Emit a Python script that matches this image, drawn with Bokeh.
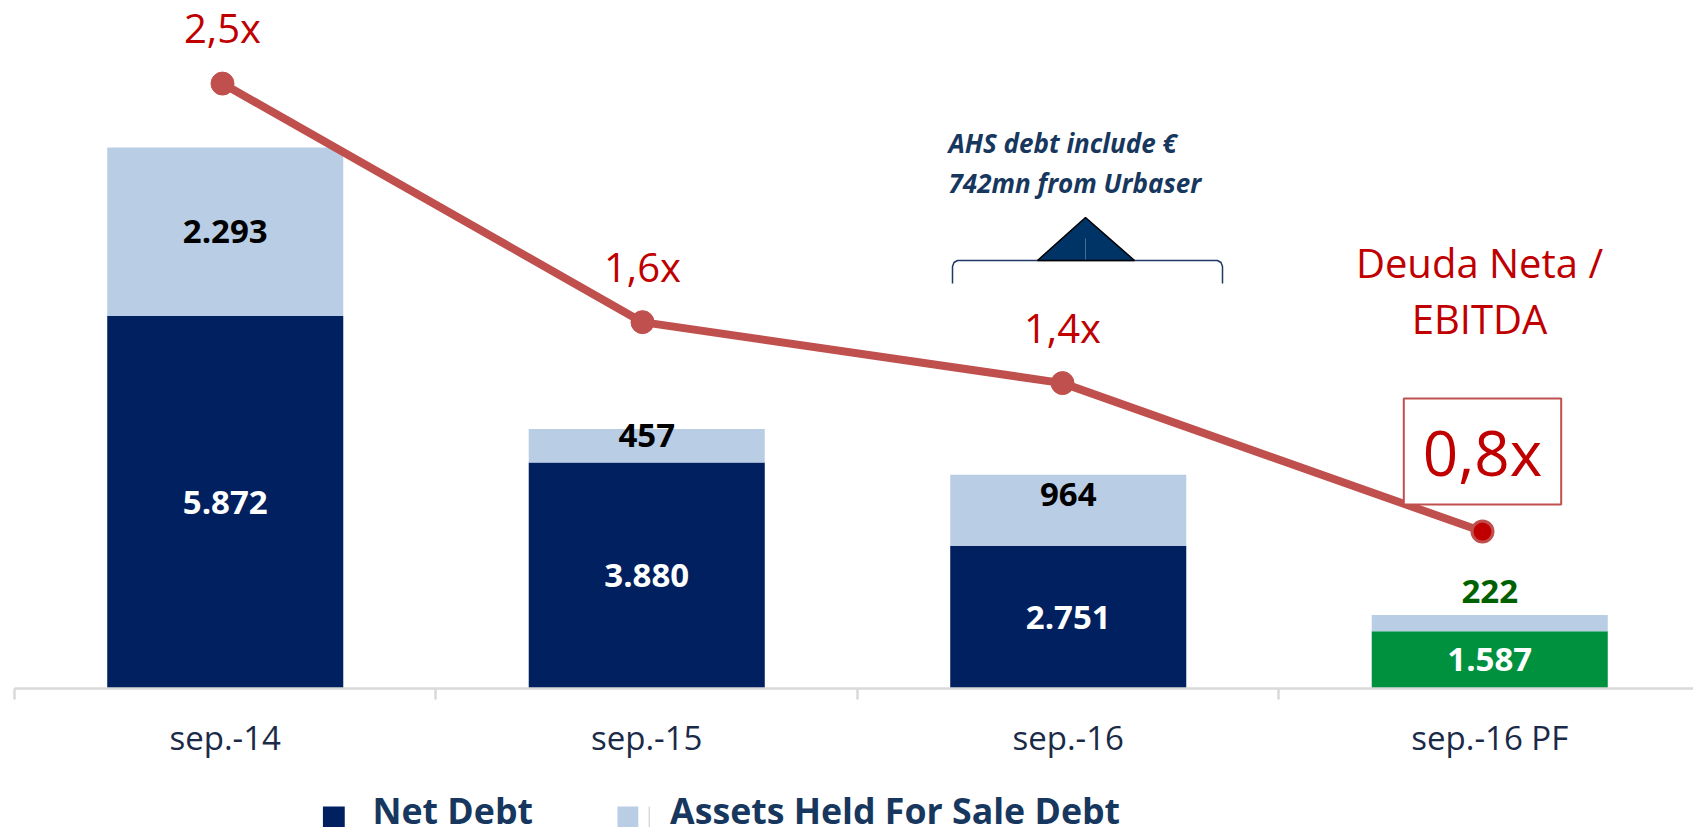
from bokeh.plotting import figure
from bokeh.layouts import column
from bokeh.models import Range1d, LinearAxis, FixedTicker, Label, ColumnDataSource
from bokeh.core.properties import value
from bokeh.embed import file_html
from bokeh.resources import INLINE

# ---------------- data ----------------
categories = ["sep.-14", "sep.-15", "sep.-16", "sep.-16 PF"]
net_debt = [5872, 3880, 2751, 1587]
ahs_debt = [2293, 457, 964, 222]
ratio = [2.5, 1.6, 1.37, 0.81]
ratio_labels = ["2,5x", "1,6x", "1,4x", "0,8x"]
net_labels = ["5.872", "3.880", "2.751", "1.587"]
ahs_labels = ["2.293", "457", "964", "222"]
series_names = ["Net Debt", "Assets Held For Sale Debt"]

# ---------------- styling ----------------
NAVY = "#002060"
LIGHT = "#B9CDE5"
GREEN = "#00913F"
LINE_RED = "#C0504D"
TEXT_RED = "#C00000"
DARK_TXT = "#17375E"
FONT = "Open Sans"

W = 1693
H1, H2 = 780, 47
Y0, Y1 = 809, 10162          # primary axis (debt) visible range
R0, R1 = 0.218, 2.8134       # secondary axis (ratio) visible range

p = figure(width=W, height=H1, output_backend="svg", toolbar_location=None, title=None,
           x_range=Range1d(0, 3.9834), y_range=Range1d(Y0, Y1),
           x_axis_location=None, y_axis_location=None,
           min_border_left=14, min_border_right=0, min_border_top=0, min_border_bottom=H1 - 688)
p.outline_line_color = None
p.grid.grid_line_color = None
p.background_fill_color = "white"
p.border_fill_color = "white"

# "ratio"/"line" = secondary axes of the line series; "px"/"pxy" = picture pixels for decorations
p.extra_y_ranges = {"ratio": Range1d(R0, R1), "pxy": Range1d(688, 0)}
p.extra_x_ranges = {"px": Range1d(14, W), "line": Range1d(0.00476, 4.0024)}

xpos = [i + 0.5 for i in range(len(categories))]
bar_colors = [NAVY, NAVY, NAVY, GREEN]
src = ColumnDataSource(dict(
    x=xpos, net=net_debt, ahs=ahs_debt,
    total=[n + a for n, a in zip(net_debt, ahs_debt)],
    color=bar_colors))

BW = 0.56
net_r = p.vbar(x="x", bottom=0, top="net", width=BW, fill_color="color",
               line_color=None, source=src)
ahs_r = p.vbar(x="x", bottom="net", top="total", width=BW, fill_color=LIGHT,
               line_color=None, source=src)

# bar labels
net_mid = [(Y0 + n) / 2 for n in net_debt]
p.text(x=xpos, y=net_mid, text=net_labels, text_align="center", text_baseline="middle",
       text_font=value(FONT), text_font_style="bold", text_font_size="33px", text_color="white")

ahs_offsets = [0, -10, -16]
for i in range(3):
    p.text(x=[xpos[i]], y=[net_debt[i] + ahs_debt[i] / 2], text=[ahs_labels[i]],
           y_offset=ahs_offsets[i], text_align="center", text_baseline="middle",
           text_font=value(FONT), text_font_style="bold", text_font_size="33px",
           text_color="black")
p.text(x=[xpos[3]], y=[net_debt[3] + ahs_debt[3]], text=[ahs_labels[3]],
       y_offset=-23, text_align="center", text_baseline="middle",
       text_font=value(FONT), text_font_style="bold", text_font_size="33px",
       text_color="#006100")

# ratio line
LR = dict(x_range_name="line", y_range_name="ratio")
p.line(x=xpos, y=ratio, line_color=LINE_RED, line_width=8, **LR)
p.scatter(x=xpos[:3], y=ratio[:3], size=23, fill_color=LINE_RED, line_color=LINE_RED, **LR)
p.scatter(x=xpos[3:], y=ratio[3:], size=21, fill_color=TEXT_RED, line_color=LINE_RED,
          line_width=3, **LR)
p.text(x=xpos[:3], y=ratio[:3], text=ratio_labels[:3],
       y_offset=-56, text_align="center", text_baseline="middle",
       text_font=value(FONT), text_font_size="40px", text_color=TEXT_RED, **LR)
p.add_layout(Label(x=xpos[3], y=ratio[3], text=ratio_labels[3],
                   y_offset=80, text_align="center", text_baseline="middle",
                   text_font=FONT, text_font_size="62px", text_color=TEXT_RED,
                   border_line_color=LINE_RED, border_line_width=2,
                   background_fill_color="white",
                   padding=dict(left=19, right=19, top=11, bottom=11), **LR))

# series title for the line
for txt, yy in [("Deuda Neta /", 262), ("EBITDA", 318)]:
    p.add_layout(Label(x=1479, y=yy, x_range_name="px", y_range_name="pxy", text=txt,
                       text_align="center", text_baseline="middle", text_font=FONT,
                       text_font_size="40px", text_color=TEXT_RED))

# AHS annotation
for txt, yy in [("AHS debt include \u20ac", 142), ("742mn from Urbaser", 182)]:
    p.add_layout(Label(x=948, y=yy, x_range_name="px", y_range_name="pxy", text=txt,
                       text_align="left", text_baseline="middle", text_font=FONT,
                       text_font_style="bold italic", text_font_size="26px",
                       text_color=DARK_TXT))
p.line(x=[952, 952, 953.5, 957, 1217, 1220.5, 1222, 1222],
       y=[283, 266, 262, 260, 260, 262, 266, 283],
       x_range_name="px", y_range_name="pxy", line_color="#1F3864", line_width=1.5)
p.patch(x=[1037, 1085, 1134], y=[260, 217, 260], x_range_name="px", y_range_name="pxy",
        fill_color="#003366", line_color="black", line_width=1.5)
p.line(x=[1085, 1085], y=[259, 238], x_range_name="px", y_range_name="pxy",
       line_color="#4A6A9A", line_width=1)

# x axis: labels at category centers, tick marks at category boundaries
xaxis = LinearAxis(ticker=FixedTicker(ticks=xpos, minor_ticks=[0, 1, 2, 3, 4]),
                   major_label_overrides={x: c for x, c in zip(xpos, categories)})
xaxis.axis_line_color = "#D9D9D9"
xaxis.axis_line_width = 2.5
xaxis.major_tick_line_color = None
xaxis.major_tick_out = 0
xaxis.major_tick_in = 0
xaxis.minor_tick_line_color = "#D9D9D9"
xaxis.minor_tick_line_width = 2.5
xaxis.minor_tick_out = 11
xaxis.minor_tick_in = 0
xaxis.major_label_text_font = FONT
xaxis.major_label_text_font_size = "33px"
xaxis.major_label_text_color = "#1B2A47"
xaxis.major_label_standoff = 15
p.add_layout(xaxis, "below")

# ---------------- legend strip (picture pixel coordinates) ----------------
lg = figure(width=W, height=H2, output_backend="svg", toolbar_location=None, title=None,
            x_range=Range1d(0, W), y_range=Range1d(H1 + H2, H1),
            x_axis_location=None, y_axis_location=None,
            min_border_left=0, min_border_right=0, min_border_top=0, min_border_bottom=0)
lg.outline_line_color = None
lg.grid.grid_line_color = None
lg.quad(left=[311, 608], right=[333, 629], top=[806, 806], bottom=[828, 828],
        fill_color=[NAVY, LIGHT], line_color=None)
lg.line(x=[640, 640], y=[806, 827], line_color="#C8C8C8", line_width=1)
lg.text(x=[361, 661], y=[809, 809], text=series_names, text_align="left",
        text_baseline="middle", text_font=value(FONT), text_font_style="bold",
        text_font_size="35.7px", text_color=DARK_TXT)

layout = column(p, lg, spacing=0)
open("out.html", "w").write(file_html(layout, INLINE))
